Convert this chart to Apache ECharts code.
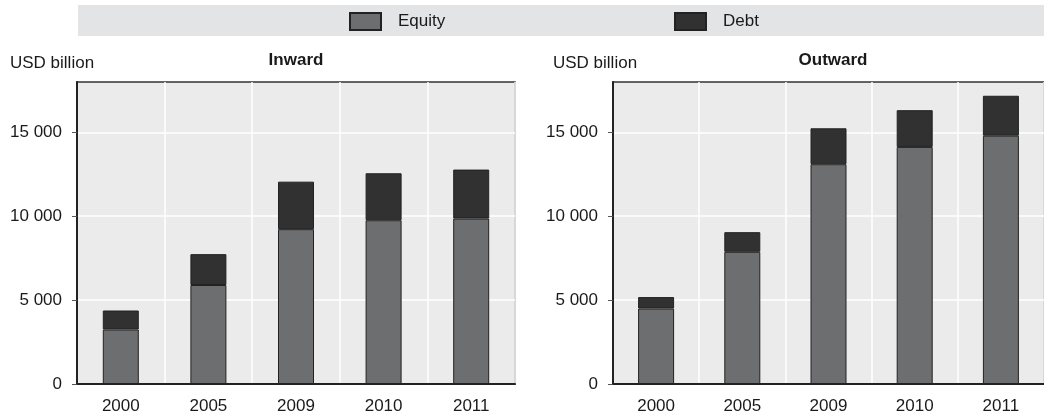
<!DOCTYPE html>
<html>
<head>
<meta charset="utf-8">
<title>FDI positions</title>
<script src="https://cdn.jsdelivr.net/npm/echarts@6/dist/echarts.min.js"></script>
<style>
  html, body { margin: 0; padding: 0; background: #fff; }
  #chart { width: 1044px; height: 420px; }
</style>
</head>
<body>
<div id="chart"></div>
<script>
const years = ['2000', '2005', '2009', '2010', '2011'];
const inwardEquity = [3250, 5900, 9230, 9760, 9860];
const inwardDebt = [1130, 1840, 2830, 2800, 2920];
const outwardEquity = [4500, 7880, 13100, 14130, 14800];
const outwardDebt = [680, 1170, 2140, 2190, 2380];
const yTicks = [0, 5000, 10000, 15000];

const FONT = '"Liberation Sans", Arial, sans-serif';
const SIZE = 17;
const TEXT = '#1a1a1a';
const EQUITY = '#6d6e70';
const DEBT = '#323132';

// 15000 -> "15 000"
const fmt = (v) => String(v).replace(/\B(?=(\d{3})+(?!\d))/g, ' ');

function xAxis(gridIndex) {
  return {
    type: 'category',
    gridIndex,
    data: years,
    axisLine: { lineStyle: { color: '#222', width: 2 } },
    axisTick: { inside: true, length: 7, lineStyle: { color: '#555' } },
    axisLabel: { color: TEXT, fontFamily: FONT, fontSize: SIZE, margin: 14 },
    splitLine: { show: true, lineStyle: { color: '#fff', width: 1.5 } },
  };
}

function yAxis(gridIndex) {
  return {
    type: 'value',
    gridIndex,
    min: 0,
    max: 18000,
    interval: 5000,
    axisLine: { show: true, lineStyle: { color: '#222', width: 2 } },
    axisTick: { show: true, length: 5, customValues: yTicks, lineStyle: { color: '#555' } },
    axisLabel: {
      color: TEXT,
      fontFamily: FONT,
      fontSize: SIZE,
      margin: 15,
      padding: [4, 0, 0, 0],
      customValues: yTicks,
      formatter: fmt,
    },
    splitLine: { lineStyle: { color: '#fff', width: 1.5 } },
  };
}

function bar(name, data, color, idx) {
  return {
    name,
    type: 'bar',
    stack: 'pos' + idx,
    xAxisIndex: idx,
    yAxisIndex: idx,
    data,
    barWidth: 36,
    itemStyle: { color, borderColor: '#222', borderWidth: 1 },
    emphasis: { disabled: true },
  };
}

const chart = echarts.init(document.getElementById('chart'));

const legendBase = {
  top: 12,
  padding: 0,
  itemWidth: 31,
  itemHeight: 17,
  icon: 'rect',
  textStyle: { color: TEXT, fontFamily: FONT, fontSize: SIZE, padding: [0, 0, 0, 12] },
  selectedMode: false,
};

chart.setOption({
  animation: false,
  legend: [
    { ...legendBase, left: 349, data: ['Equity'] },
    { ...legendBase, left: 674, data: ['Debt'] },
  ],
  graphic: [
    { type: 'rect', z: -10, shape: { x: 78, y: 5, width: 966, height: 31 }, style: { fill: '#e3e4e6' } },
    { type: 'text', left: 10, top: 55, style: { text: 'USD billion', font: SIZE + 'px ' + FONT, fill: TEXT } },
    { type: 'text', left: 553, top: 55, style: { text: 'USD billion', font: SIZE + 'px ' + FONT, fill: TEXT } },
    { type: 'text', x: 296, y: 52, style: { text: 'Inward', font: 'bold ' + SIZE + 'px ' + FONT, fill: TEXT, textAlign: 'center' } },
    { type: 'text', x: 833, y: 52, style: { text: 'Outward', font: 'bold ' + SIZE + 'px ' + FONT, fill: TEXT, textAlign: 'center' } },
  ],
  grid: [
    { left: 77, top: 82, width: 438, height: 302, show: true, backgroundColor: '#ebebeb', borderColor: '#333', borderWidth: 1.5 },
    { left: 613, top: 82, width: 440, height: 302, show: true, backgroundColor: '#ebebeb', borderColor: '#333', borderWidth: 1.5 },
  ],
  xAxis: [xAxis(0), xAxis(1)],
  yAxis: [yAxis(0), yAxis(1)],
  series: [
    bar('Equity', inwardEquity, EQUITY, 0),
    bar('Debt', inwardDebt, DEBT, 0),
    bar('Equity', outwardEquity, EQUITY, 1),
    bar('Debt', outwardDebt, DEBT, 1),
  ],
});
</script>
</body>
</html>
